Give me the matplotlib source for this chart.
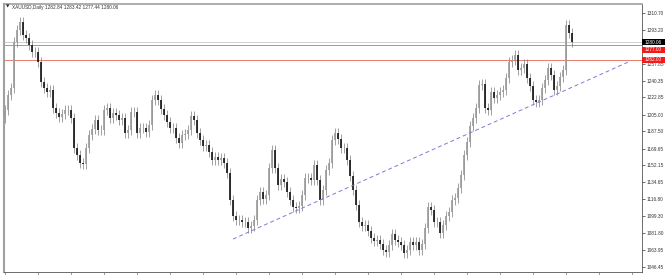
import numpy as np
import matplotlib
matplotlib.use("Agg")
import matplotlib.pyplot as plt
from matplotlib.patches import Rectangle
from matplotlib.transforms import blended_transform_factory

# daily closes, one per bar (open = previous close)
closes = [
    1209.7, 1225.3, 1232.6, 1280.4, 1292.9, 1301.2, 1287.7, 1284.6, 1277.3, 1270.0,
    1270.0, 1259.6, 1238.8, 1232.6, 1228.4, 1230.5, 1211.8, 1206.6, 1202.4, 1205.5,
    1209.7, 1209.7, 1201.4, 1170.2, 1162.9, 1154.6, 1153.5, 1170.2, 1183.7, 1190.0,
    1199.3, 1188.9, 1188.9, 1209.7, 1211.8, 1201.4, 1206.6, 1204.5, 1199.3, 1201.4,
    1185.8, 1188.9, 1207.6, 1207.6, 1185.8, 1191.0, 1191.0, 1186.8, 1194.1, 1220.1,
    1225.3, 1220.1, 1210.7, 1204.5, 1197.2, 1191.0, 1191.0, 1180.6, 1175.4, 1183.7,
    1184.7, 1188.9, 1203.5, 1199.3, 1185.8, 1178.5, 1172.3, 1173.3, 1166.0, 1157.7,
    1160.8, 1157.7, 1159.8, 1154.6, 1144.2, 1116.1, 1099.5, 1095.3, 1095.3, 1093.2,
    1093.2, 1087.0, 1089.1, 1095.3, 1116.1, 1124.4, 1117.2, 1121.3, 1149.4, 1168.1,
    1149.4, 1131.7, 1137.9, 1134.8, 1124.4, 1116.1, 1108.8, 1107.8, 1109.9, 1121.3,
    1139.0, 1139.0, 1136.9, 1152.5, 1136.9, 1116.1, 1126.5, 1147.3, 1154.6, 1178.5,
    1185.8, 1179.5, 1170.2, 1170.2, 1157.7, 1141.1, 1126.5, 1110.9, 1093.2, 1089.1,
    1090.1, 1083.9, 1076.6, 1073.5, 1074.5, 1070.3, 1064.1, 1062.0, 1069.3, 1080.7,
    1074.5, 1072.4, 1069.3, 1060.9, 1064.1, 1072.4, 1069.3, 1072.4, 1064.1, 1070.3,
    1087.0, 1108.8, 1105.7, 1093.2, 1093.2, 1081.8, 1090.1, 1099.5, 1103.6, 1116.1,
    1118.2, 1128.6, 1142.1, 1162.9, 1176.4, 1193.0, 1201.4, 1211.8, 1235.7, 1236.7,
    1211.8, 1209.7, 1228.4, 1222.2, 1225.3, 1228.4, 1230.5, 1243.0, 1259.6, 1261.7,
    1266.9, 1251.3, 1253.4, 1257.5, 1243.0, 1234.7, 1220.1, 1218.0, 1220.1, 1232.6,
    1240.9, 1253.4, 1246.1, 1230.5, 1234.7, 1244.0, 1251.3, 1298.0, 1290.0, 1280.06,
]

price_ticks = [1046.45, 1063.95, 1081.80, 1099.30, 1116.80, 1134.65, 1152.15, 1169.65,
               1187.50, 1205.00, 1222.85, 1240.35, 1257.85, 1275.70, 1293.20, 1310.70]
# tick labels hidden behind the level boxes in the original
hidden_ticks = [1275.70]

bid_level = 1280.06
red_levels = [1277.00, 1262.00]

# trend line endpoints (bar index, price)
trend_x = [76, 207.7]
trend_y = [1075.5, 1259.6]

title = "XAUUSD,Daily 1282.84 1283.42 1277.44 1280.06"

wick = 5.0
FONT = ["Liberation Sans", "DejaVu Sans"]

closes = np.array(closes)
opens = np.concatenate([[closes[0] - 8], closes[:-1]])
highs = np.maximum(opens, closes) + wick
lows = np.minimum(opens, closes) - wick
idx = np.arange(len(closes))
up = closes >= opens

fig = plt.figure(figsize=(6.65, 2.75), dpi=100)
ax = fig.add_axes([4 / 665, 3 / 275, 638 / 665, 268 / 275])

ax.vlines(idx, lows, highs, color="#7a7a7a", lw=0.5, zorder=2)
ax.vlines(idx[up], opens[up], closes[up], color="#9a9a9a", lw=1.2, zorder=3)
ax.vlines(idx[~up], opens[~up], closes[~up], color="#111111", lw=1.2, zorder=3)

ax.axhline(bid_level, color="#cfcfcf", lw=0.7, zorder=1)
for lv in red_levels:
    ax.axhline(lv, color="#e06a5a", lw=0.6, zorder=1)

ax.plot(trend_x, trend_y, color="#7a7ad8", lw=0.7, dashes=(4, 3), zorder=4)

ax.set_xlim(-0.33, len(closes) - 1 + 23.3)
ax.set_ylim(1041.25, 1320.0)

ax.yaxis.tick_right()
ax.set_yticks(price_ticks)
ax.set_yticklabels(["" if t in hidden_ticks else f"{t:.2f}" for t in price_ticks])
ax.tick_params(axis="y", length=2, width=0.5, pad=1.5, labelsize=3.4, colors="#333333")
for lab in ax.get_yticklabels():
    lab.set_family(FONT)

ax.set_xticks(np.arange(0, len(closes) + 23, 11))
ax.set_xticklabels([])
ax.tick_params(axis="x", length=2, width=0.5, colors="#777777")

ax.spines["left"].set_color("#a0a0a0")
ax.spines["left"].set_linewidth(1.5)
ax.spines["top"].set_color("#a0a0a0")
ax.spines["top"].set_linewidth(1.2)
ax.spines["right"].set_color("#555555")
ax.spines["right"].set_linewidth(0.6)
ax.spines["bottom"].set_color("#555555")
ax.spines["bottom"].set_linewidth(0.6)

# price labels on the right axis: boxes from axis line to figure edge
tr = blended_transform_factory(ax.transAxes, ax.transData)
box_w = 23 / 638
box_h = 6.6  # in price units (~6.5 px)
# label centres; the 1277 box is nudged down so it sits under the bid box
labels = [(bid_level, bid_level + 0.3, "black"),
          (red_levels[0], red_levels[0] - 4.6, "#ee1c1c"),
          (red_levels[1], red_levels[1], "#ee1c1c")]
for lv, yc, fc in labels:
    ax.add_patch(Rectangle((1.0, yc - box_h / 2), box_w, box_h, transform=tr,
                           fc=fc, ec="none", zorder=10, clip_on=False))
    ax.text(1.0 + box_w / 2, yc, f"{lv:.2f}", transform=tr, va="center", ha="center",
            fontsize=3.4, color="white", family=FONT, zorder=11, clip_on=False)

fig.text(6 / 665, 1 - 7 / 275, "\u25bc", fontsize=3.2, va="center", ha="left",
         family=["DejaVu Sans"], color="#222222")
fig.text(12 / 665, 1 - 7 / 275, title, fontsize=3.4, va="center", ha="left",
         family=FONT, color="#333333")

fig.savefig("out.png", dpi=100, facecolor="white")
